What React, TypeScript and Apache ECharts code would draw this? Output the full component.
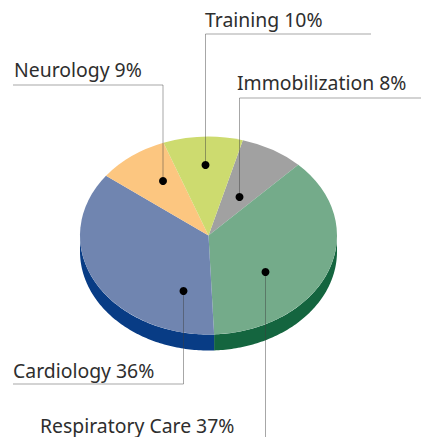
import React, { useEffect, useRef } from "react";
import * as echarts from "echarts";

const categories = ["Immobilization", "Respiratory Care", "Cardiology", "Neurology", "Training"];
const shares = [8, 37, 36, 9, 10];
const topColors = ["#a1a1a1", "#74ab8a", "#7085b0", "#fcc680", "#cddb6f"];
const wallColors = ["#6e6e6e", "#14653f", "#083c85", "#c9955a", "#9aa84e"];

const CX = 208.5;
const CY = 235.5;
const RX = 128.5;
const RY = 99;
const DEPTH = 16;
const START_CW_DEG = 15.5;

const total = shares.reduce((a, b) => a + b, 0);
const rad = (d: number) => (d * Math.PI) / 180;

// label text index, text position, leader polyline
const leaders = [
  { i: 4, tx: 205, ty: 19, pts: [[371, 34], [205.5, 34], [205.5, 165]] },
  { i: 3, tx: 14, ty: 69, pts: [[13, 85], [163, 85], [163, 181]] },
  { i: 0, tx: 237, ty: 82, pts: [[421, 98], [239.5, 98], [239.5, 197]] },
  { i: 2, tx: 13, ty: 370, pts: [[13, 384], [183.5, 384], [183.5, 291]] },
  { i: 1, tx: 40, ty: 425, pts: [[265.5, 437], [265.5, 272]] },
];

export default function App() {
  const ref = useRef<HTMLDivElement>(null);
  useEffect(() => {
    const chart = echarts.init(ref.current!, undefined, { renderer: "svg" });
    const graphics: any[] = [];
    leaders.forEach((l) => {
      graphics.push({
        type: "polyline",
        shape: { points: l.pts },
        style: { stroke: "rgba(60,60,60,0.45)", lineWidth: 1, fill: "none" },
        z: 10,
      });
      const end = l.pts[l.pts.length - 1];
      graphics.push({
        type: "circle",
        shape: { cx: end[0], cy: end[1], r: 4 },
        style: { fill: "#000" },
        z: 11,
      });
      graphics.push({
        type: "text",
        x: l.tx,
        y: l.ty,
        style: {
          text: `${categories[l.i]} ${shares[l.i]}%`,
          fontFamily: "Noto Sans",
          fontSize: 19.4,
          fill: "#2e2e2e",
          textVerticalAlign: "middle",
        },
        z: 12,
      });
    });

    chart.setOption({
      animation: false,
      backgroundColor: "#ffffff",
      graphic: graphics,
      series: [
        {
          type: "custom",
          coordinateSystem: "none",
          silent: true,
          data: shares.map((v, i) => ({ value: [v, i], name: categories[i] })),
          renderItem: (_params: any, api: any) => {
            const v = api.value(0) as number;
            const i = api.value(1) as number;
            const before = shares.slice(0, i).reduce((a, b) => a + b, 0);
            const a0 = START_CW_DEG + (before / total) * 360;
            const a1 = a0 + (v / total) * 360;
            const children: any[] = [];
            // visible wall: the part of the slice on the lower half of the ellipse
            const w0 = Math.max(a0, 90);
            const w1 = Math.min(a1, 270);
            if (w1 > w0) {
              const rim: number[][] = [];
              const n = Math.ceil(w1 - w0) + 1;
              for (let k = 0; k <= n; k++) {
                const d = w0 + ((w1 - w0) * k) / n;
                rim.push([CX + RX * Math.sin(rad(d)), CY - RY * Math.cos(rad(d))]);
              }
              const low = rim.map((p) => [p[0], p[1] + DEPTH]).reverse();
              children.push({
                type: "polygon",
                shape: { points: rim.concat(low) },
                style: { fill: wallColors[i] },
              });
            }
            children.push({
              type: "group",
              x: CX,
              y: CY,
              scaleY: RY / RX,
              children: [
                {
                  type: "sector",
                  shape: {
                    cx: 0,
                    cy: 0,
                    r0: 0,
                    r: RX,
                    startAngle: rad(a0 - 90),
                    endAngle: rad(a1 - 90),
                    clockwise: true,
                  },
                  style: { fill: topColors[i] },
                },
              ],
            });
            return { type: "group", children };
          },
        },
      ],
    });
    return () => chart.dispose();
  }, []);
  return <div ref={ref} style={{ position: "absolute", left: 0, top: 0, width: 421, height: 437 }} />;
}
